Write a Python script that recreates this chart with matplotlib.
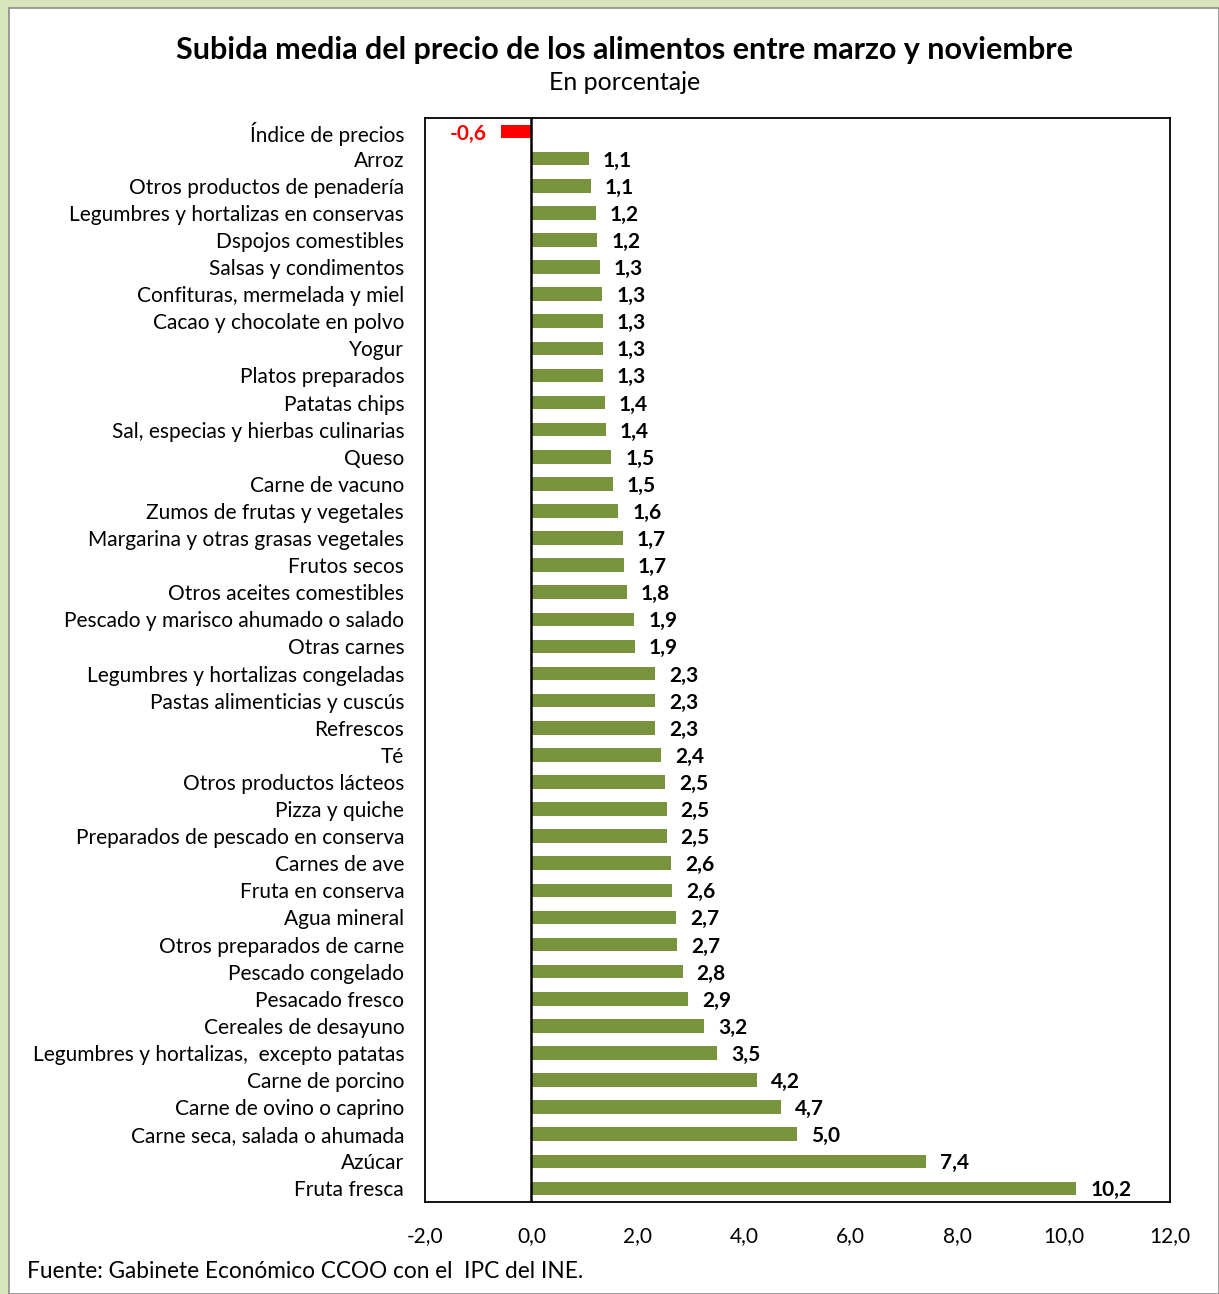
import matplotlib
matplotlib.use("Agg")
import matplotlib.pyplot as plt
from matplotlib.patches import Rectangle
from matplotlib import transforms

categories = [
    "Índice de precios", "Arroz", "Otros productos de penadería",
    "Legumbres y hortalizas en conservas", "Dspojos comestibles",
    "Salsas y condimentos", "Confituras, mermelada y miel",
    "Cacao y chocolate en polvo", "Yogur", "Platos preparados",
    "Patatas chips", "Sal, especias y hierbas culinarias", "Queso",
    "Carne de vacuno", "Zumos de frutas y vegetales",
    "Margarina y otras grasas vegetales", "Frutos secos",
    "Otros aceites comestibles", "Pescado y marisco ahumado o salado",
    "Otras carnes", "Legumbres y hortalizas congeladas",
    "Pastas alimenticias y cuscús", "Refrescos", "Té",
    "Otros productos lácteos", "Pizza y quiche",
    "Preparados de pescado en conserva", "Carnes de ave",
    "Fruta en conserva", "Agua mineral", "Otros preparados de carne",
    "Pescado congelado", "Pesacado fresco", "Cereales de desayuno",
    "Legumbres y hortalizas,  excepto patatas", "Carne de porcino",
    "Carne de ovino o caprino", "Carne seca, salada o ahumada",
    "Azúcar", "Fruta fresca",
]
values = [
    -0.57, 1.08, 1.12, 1.21, 1.24, 1.29, 1.33, 1.34, 1.34, 1.34,
    1.38, 1.40, 1.50, 1.53, 1.63, 1.72, 1.74, 1.79, 1.93, 1.94,
    2.32, 2.32, 2.32, 2.44, 2.51, 2.54, 2.54, 2.62, 2.64, 2.72,
    2.74, 2.84, 2.94, 3.24, 3.49, 4.24, 4.69, 4.99, 7.42, 10.24,
]
xticks = [-2, 0, 2, 4, 6, 8, 10, 12]

FONT = "Lato"
W, H = 1219, 1294
fig = plt.figure(figsize=(W / 100, H / 100), dpi=100)
fig.patch.set_facecolor("#d8e4bc")
fig.patches.append(Rectangle((9 / W, 0), 1 - 9 / W, 1 - 8 / H,
                             transform=fig.transFigure, facecolor="white",
                             edgecolor="#8c8c8c", linewidth=1.2, zorder=-10))

ax = fig.add_axes([425 / W, 1 - 1202 / H, (1170 - 425) / W, (1202 - 118) / H])
ax.set_zorder(5)
ax.set_facecolor("white")

n = len(categories)
ypos = list(range(n))
colors = ["#ff0000" if v < 0 else "#77933c" for v in values]
ax.barh(ypos, values, height=0.5, color=colors, zorder=2)

ax.set_xlim(-2, 12)
ax.set_ylim(n - 0.5, -0.5)
ax.axvline(0, color="black", linewidth=1.8, zorder=3)

ax.set_yticks(ypos)
ax.set_yticklabels(categories, fontsize=15, family=FONT)
ax.set_xticks(xticks)
ax.set_xticklabels([f"{t:.1f}".replace(".", ",") for t in xticks],
                   fontsize=15, family=FONT)
ax.tick_params(axis="y", length=0, pad=15)
ax.tick_params(axis="x", length=0, pad=17)
for sp in ax.spines.values():
    sp.set_color("black")
    sp.set_linewidth(1.3)

for y, v in zip(ypos, values):
    lbl = f"{v:.1f}".replace(".", ",")
    if v < 0:
        off = transforms.offset_copy(ax.transData, fig=fig, x=-14, y=-2, units="dots")
        ax.text(v, y, lbl, transform=off, ha="right", va="center",
                color="#ff0000", fontsize=15, fontweight="bold", family=FONT)
    else:
        off = transforms.offset_copy(ax.transData, fig=fig, x=14, y=-2, units="dots")
        ax.text(v, y, lbl, transform=off, ha="left", va="center",
                color="black", fontsize=15, fontweight="bold", family=FONT)

fig.text(624 / W, 1 - 50 / H,
         "Subida media del precio de los alimentos entre marzo y noviembre",
         ha="center", va="center", fontsize=22, fontweight="bold", family=FONT)
fig.text(625 / W, 1 - 82 / H, "En porcentaje", ha="center", va="center",
         fontsize=18, family=FONT)
fig.text(27 / W, 1 - 1271 / H, "Fuente: Gabinete Económico CCOO con el  IPC del INE.",
         ha="left", va="center", fontsize=16.3, family=FONT)

fig.savefig("out.png", dpi=100)
